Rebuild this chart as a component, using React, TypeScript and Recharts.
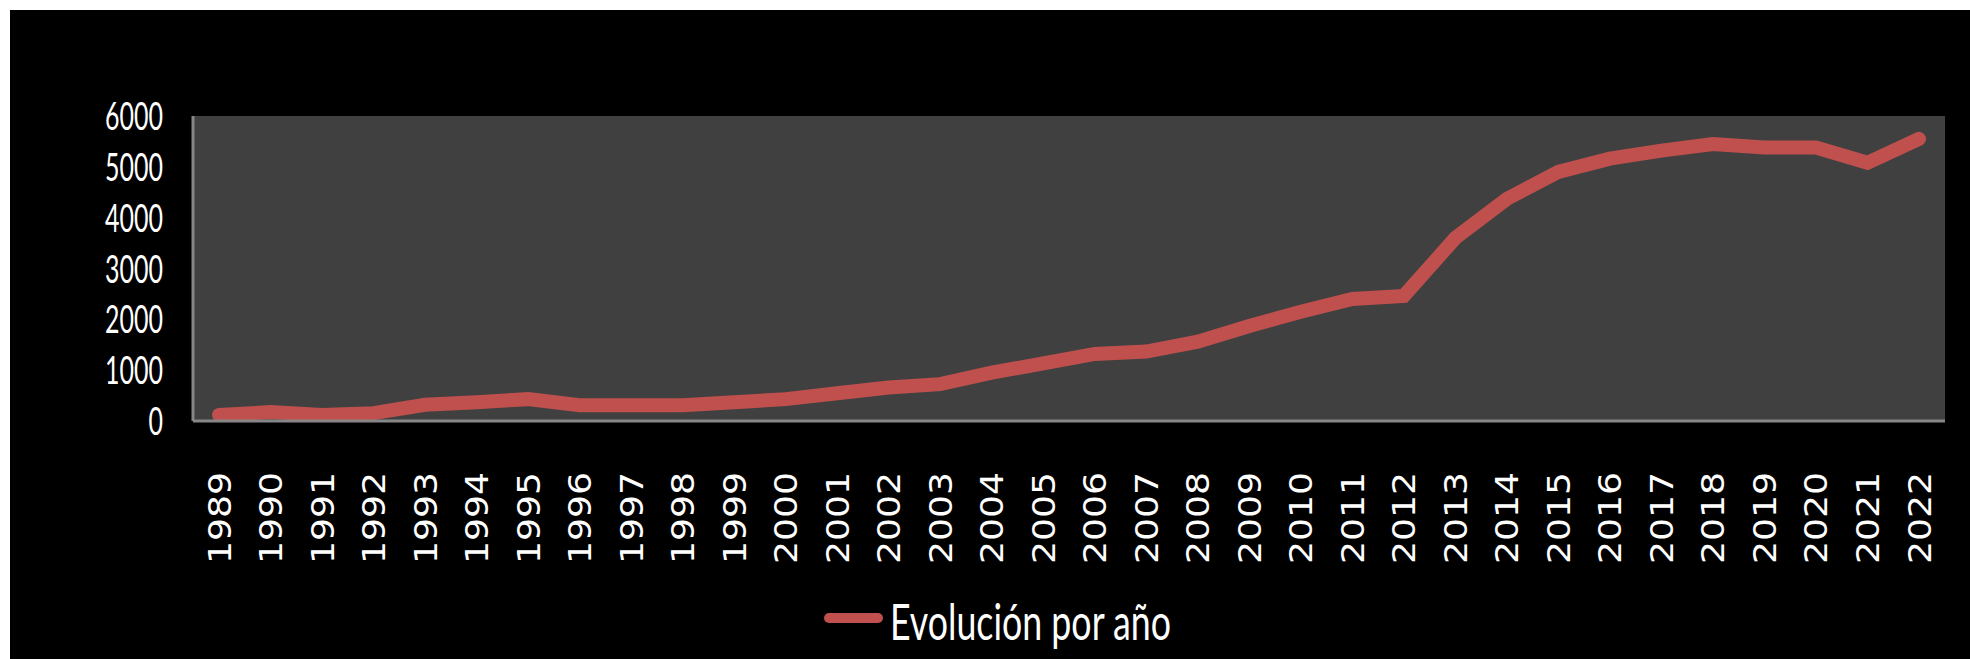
import React from "react";
import {
  LineChart,
  Line,
  CartesianGrid,
  XAxis,
  YAxis,
  Legend,
} from "recharts";

const years = [
  "1989", "1990", "1991", "1992", "1993", "1994", "1995", "1996", "1997",
  "1998", "1999", "2000", "2001", "2002", "2003", "2004", "2005", "2006",
  "2007", "2008", "2009", "2010", "2011", "2012", "2013", "2014", "2015",
  "2016", "2017", "2018", "2019", "2020", "2021", "2022",
];

const evolucion = [
  120, 175, 120, 155, 320, 370, 430, 310, 310, 310, 370, 430, 545, 660, 725,
  950, 1135, 1320, 1365, 1560, 1870, 2150, 2400, 2460, 3600, 4370, 4900, 5160,
  5320, 5450, 5380, 5380, 5080, 5550,
];

const yTicks = [0, 1000, 2000, 3000, 4000, 5000, 6000];

const seriesName = "Evolución por año";

const data = years.map((year, i) => ({ year, value: evolucion[i] }));

const YTick = (props: any) => {
  const { x, y, payload } = props;
  const label = String(payload.value);
  return (
    <text
      x={x}
      y={y + 14}
      textAnchor="end"
      fill="#fff"
      fontFamily="Lato, 'Open Sans', sans-serif"
      fontSize={39}
      textLength={label.length * 14.5}
      lengthAdjust="spacingAndGlyphs"
    >
      {label}
    </text>
  );
};

const XTick = (props: any) => {
  const { x, y, payload } = props;
  return (
    <g transform={`translate(${x},${y + 51}) rotate(-90)`}>
      <text
        x={0}
        y={11.5}
        textAnchor="end"
        fill="#fff"
        fontFamily="'DejaVu Sans', Verdana, sans-serif"
        fontSize={31.5}
        textLength={92}
        lengthAdjust="spacingAndGlyphs"
      >
        {payload.value}
      </text>
    </g>
  );
};

// legend drawn as a small svg so the narrow text can be squeezed like the original
const LegendBox = (props: any) => {
  const item = props.payload && props.payload[0];
  const color = item ? item.color : "#C0504D";
  const label = item ? item.value : seriesName;
  return (
    <div style={{ width: 400, height: 70, position: "relative" }}>
      <svg
        width={400}
        height={80}
        style={{ position: "absolute", left: 0, top: 0, overflow: "visible" }}
      >
        <line
          x1={5}
          y1={35}
          x2={54}
          y2={35}
          stroke={color}
          strokeWidth={10}
          strokeLinecap="round"
        />
        <text
          x={66}
          y={57}
          fill="#fff"
          fontFamily="Lato, 'Open Sans', sans-serif"
          fontSize={51}
          textLength={281}
          lengthAdjust="spacingAndGlyphs"
        >
          {label}
        </text>
      </svg>
    </div>
  );
};

const App: React.FC = () => {
  return (
    <div style={{ padding: "10px 0 0 10px" }}>
      <style>{"html,body{margin:0;overflow:hidden;background:#fff}"}</style>
      <div style={{ width: 1960, height: 649, background: "#000" }}>
        <LineChart
          width={1960}
          height={649}
          data={data}
          margin={{ top: 106, right: 25, left: 0, bottom: 6 }}
        >
          <CartesianGrid
            fill="#404040"
            horizontal={false}
            vertical={false}
          />
          <XAxis
            dataKey="year"
            interval={0}
            padding={{ left: 26, right: 26 }}
            height={162}
            tickSize={0}
            tickMargin={0}
            tickLine={false}
            axisLine={{ stroke: "#868686", strokeWidth: 3 }}
            tick={<XTick />}
          />
          <YAxis
            width={183}
            domain={[0, 6000]}
            ticks={yTicks}
            interval={0}
            tickSize={0}
            tickMargin={30}
            tickLine={false}
            axisLine={{ stroke: "#868686", strokeWidth: 3 }}
            tick={<YTick />}
          />
          <Legend
            verticalAlign="bottom"
            width={400}
            height={70}
            wrapperStyle={{ left: 814 }}
            content={<LegendBox />}
          />
          <Line
            type="linear"
            dataKey="value"
            name={seriesName}
            stroke="#C0504D"
            strokeWidth={14}
            strokeLinecap="round"
            dot={false}
            activeDot={false}
            isAnimationActive={false}
          />
        </LineChart>
      </div>
    </div>
  );
};

export default App;
